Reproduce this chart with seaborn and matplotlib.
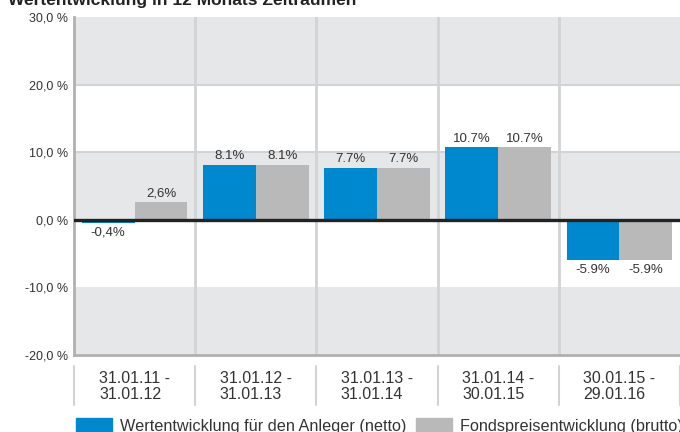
import seaborn as sns
import matplotlib.pyplot as plt
import pandas as pd
from matplotlib.patches import Patch

sns.set_style("white")
plt.rcParams['font.family'] = ['Liberation Sans', 'DejaVu Sans']

periods = ['31.01.11 -\n31.01.12', '31.01.12 -\n31.01.13', '31.01.13 -\n31.01.14',
           '31.01.14 -\n30.01.15', '30.01.15 -\n29.01.16']
netto = [-0.4, 8.1, 7.7, 10.7, -5.9]
brutto = [2.6, 8.1, 7.7, 10.7, -5.9]
netto_labels = ['-0,4%', '8.1%', '7.7%', '10.7%', '-5.9%']
brutto_labels = ['2,6%', '8.1%', '7.7%', '10.7%', '-5.9%']
series = ['Wertentwicklung für den Anleger (netto)', 'Fondspreisentwicklung (brutto)']
yticks = [-20, -10, 0, 10, 20, 30]
ytick_labels = ['-20,0 %', '-10,0 %', '0,0 %', '10,0 %', '20,0 %', '30,0 %']

blue = '#0088cf'
grey = '#b9b9b9'

df = pd.DataFrame({
    'Zeitraum': periods * 2,
    'Wert': netto + brutto,
    'Serie': [series[0]] * 5 + [series[1]] * 5,
})

fig = plt.figure(figsize=(6.8, 4.32), dpi=100)
ax = fig.add_axes([74 / 680, 1 - 355 / 432, 606 / 680, 338 / 432])

# banded background
for lo, hi in [(20, 30), (0, 10), (-20, -10)]:
    ax.axhspan(lo, hi, color='#e6e7e9', zorder=0, lw=0)
for y in [10, 20]:
    ax.axhline(y, color='#d2d3d5', lw=1.5, zorder=0.5)
for x in [0.5, 1.5, 2.5, 3.5]:
    ax.axvline(x, color='#d2d3d5', lw=2, zorder=0.5)

sns.barplot(data=df, x='Zeitraum', y='Wert', hue='Serie', palette=[blue, grey],
            width=0.87, saturation=1, ax=ax, legend=False, zorder=2,
            linewidth=0, errorbar=None)
ax.axhline(0, color='#222222', lw=2.4, zorder=3)

for cont, vals, labs in zip(ax.containers, [netto, brutto], [netto_labels, brutto_labels]):
    for patch, val, lab in zip(cont, vals, labs):
        cx = patch.get_x() + patch.get_width() / 2
        if val >= 0:
            ax.annotate(lab, (cx, val), xytext=(0, 2), textcoords='offset points',
                        ha='center', va='bottom', fontsize=9.5, color='#333333')
        else:
            ax.annotate(lab, (cx, val), xytext=(0, -3), textcoords='offset points',
                        ha='center', va='top', fontsize=9.5, color='#333333')

ax.set_ylim(-20, 30)
ax.set_xlim(-0.5, 4.5)
ax.set_yticks(yticks)
ax.set_yticklabels(ytick_labels, fontsize=9, color='#333333')
ax.tick_params(axis='y', length=0, pad=4.5)
ax.tick_params(axis='x', length=0, pad=11.5, labelsize=11.5, labelcolor='#333333')
for t in ax.get_xticklabels():
    t.set_linespacing(1.12)
    t.set_multialignment('left')
ax.set_xlabel('')
ax.set_ylabel('')
for s in ['top', 'right']:
    ax.spines[s].set_visible(False)
for s in ['left', 'bottom']:
    ax.spines[s].set_color('#b0b0b0')
    ax.spines[s].set_linewidth(2)

# separators between the period labels
trans = ax.get_xaxis_transform()
for x in [-0.5, 0.5, 1.5, 2.5, 3.5, 4.5]:
    ax.plot([x, x], [-11 / 338, -50 / 338], color='#d2d3d5', lw=1.5,
            transform=trans, clip_on=False)

fig.text(8 / 680, 0.988, 'Wertentwicklung in 12 Monats Zeiträumen', fontsize=12.5,
         fontweight='bold', va='baseline', ha='left', color='#222222')

handles = [Patch(color=blue), Patch(color=grey)]
fig.legend(handles, series, loc='upper left', bbox_to_anchor=(76 / 680, 1 - 418 / 432),
           ncol=2, frameon=False, fontsize=11.7, handlelength=2.2, handleheight=1.0,
           columnspacing=0.63, handletextpad=0.5, labelcolor='#333333',
           borderpad=0, borderaxespad=0)

fig.savefig('out.png', dpi=100)
